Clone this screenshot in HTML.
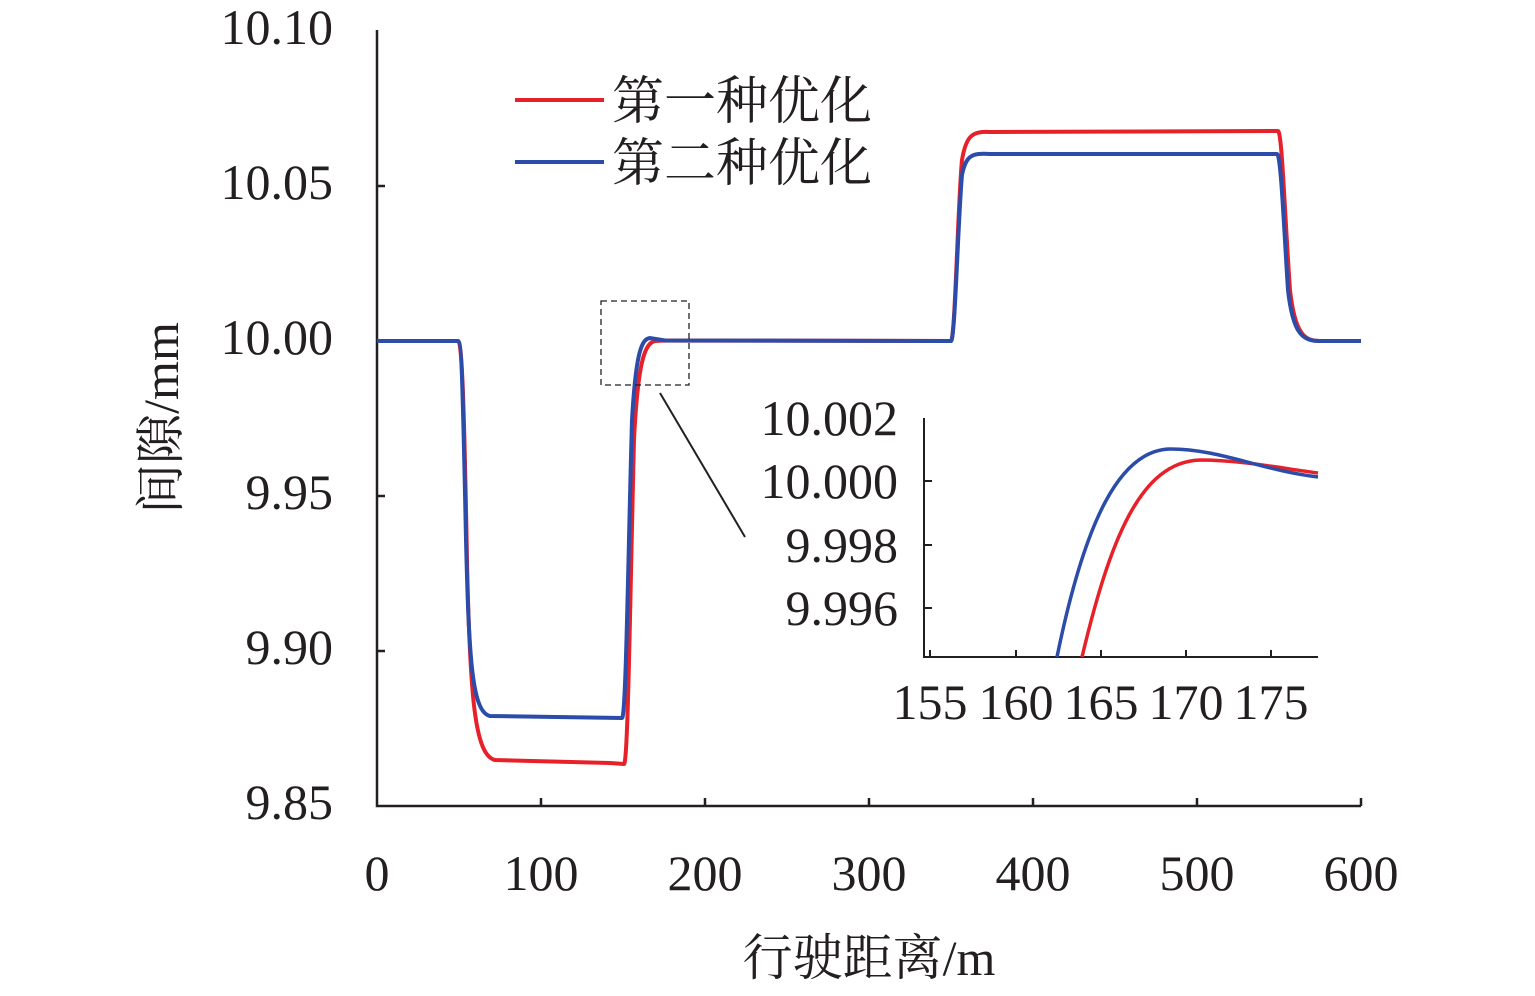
<!DOCTYPE html>
<html><head><meta charset="utf-8"><style>
body{margin:0;background:#fff}
svg text{font-family:"Liberation Serif","Noto Serif CJK SC",serif;fill:#231f20}
</style></head><body>
<svg width="1535" height="991" viewBox="0 0 1535 991" xmlns="http://www.w3.org/2000/svg">
<g stroke="#231f20" stroke-width="2.5" fill="none">
<path d="M377,30 V806 H1361"/>
<path d="M377,186 h8 M377,341 h8 M377,496 h8 M377,651 h8"/>
<path d="M541,806 v-8 M705,806 v-8 M869,806 v-8 M1033,806 v-8 M1197,806 v-8 M1361,806 v-8"/>
</g>
<g font-size="50" text-anchor="end">
<text x="333" y="44">10.10</text>
<text x="333" y="199">10.05</text>
<text x="333" y="354">10.00</text>
<text x="333" y="509">9.95</text>
<text x="333" y="664">9.90</text>
<text x="333" y="819">9.85</text>
</g>
<g font-size="50" text-anchor="middle">
<text x="377" y="890">0</text><text x="541" y="890">100</text><text x="705" y="890">200</text>
<text x="869" y="890">300</text><text x="1033" y="890">400</text><text x="1197" y="890">500</text><text x="1361" y="890">600</text>
<text x="869" y="975">行驶距离/m</text>
</g>
<text font-size="50" text-anchor="middle" transform="translate(178,418) rotate(-90)">间隙/mm</text>
<path d="M377,341 H458 C462,341 464,400 467,560 C470,700 475,755 495,760 L610,763 L624,764 C628,764 630,600 634,440 C638,360 645,343 655,341 L665,340.5 L951,341 C955,341 958,200 962,160 C966,136 972,131 990,132 L1278,131 C1282,131 1285,220 1290,290 C1295,335 1305,341 1320,341 H1361" stroke="#e62129" stroke-width="4" fill="none"/>
<path d="M377,341 H458 C462,341 463,400 466,540 C469,660 472,712 490,716 L622,718 C626,718 628,560 632,420 C636,350 642,339 650,338 L665,340.5 L951,341 C955,341 958,220 962,175 C966,155 972,153 990,154 L1277,154 C1281,154 1284,230 1288,290 C1293,335 1303,341 1320,341 H1361" stroke="#2b4ca8" stroke-width="4" fill="none"/>
<rect x="601" y="301" width="88" height="84" fill="none" stroke="#231f20" stroke-width="1.3" stroke-dasharray="6,4"/>
<line x1="660" y1="393" x2="745" y2="537" stroke="#231f20" stroke-width="2"/>
<line x1="515" y1="100" x2="604" y2="100" stroke="#e62129" stroke-width="4"/>
<line x1="515" y1="162" x2="604" y2="162" stroke="#2b4ca8" stroke-width="4"/>
<text x="612" y="119" font-size="52">第一种优化</text>
<text x="612" y="181" font-size="52">第二种优化</text>
<g stroke="#231f20" stroke-width="2" fill="none">
<path d="M924,418 V657 H1318"/>
<path d="M924,481 h8 M924,545 h8 M924,608 h8"/>
<path d="M930,657 v-7 M1016,657 v-7 M1101,657 v-7 M1186,657 v-7 M1271,657 v-7"/>
</g>
<g font-size="50" text-anchor="end">
<text x="898" y="435">10.002</text><text x="898" y="498">10.000</text>
<text x="898" y="562">9.998</text><text x="898" y="625">9.996</text>
</g>
<g font-size="50" text-anchor="middle">
<text x="930" y="719">155</text><text x="1016" y="719">160</text><text x="1101" y="719">165</text><text x="1186" y="719">170</text><text x="1271" y="719">175</text>
</g>
<path d="M1082,657 C1110,540 1140,462 1200,460 C1240,460 1280,468 1318,473" stroke="#e62129" stroke-width="3.5" fill="none"/>
<path d="M1057,657 C1085,520 1120,450 1170,449 C1220,449 1260,470 1318,477" stroke="#2b4ca8" stroke-width="3.5" fill="none"/>
</svg>
</body></html>
